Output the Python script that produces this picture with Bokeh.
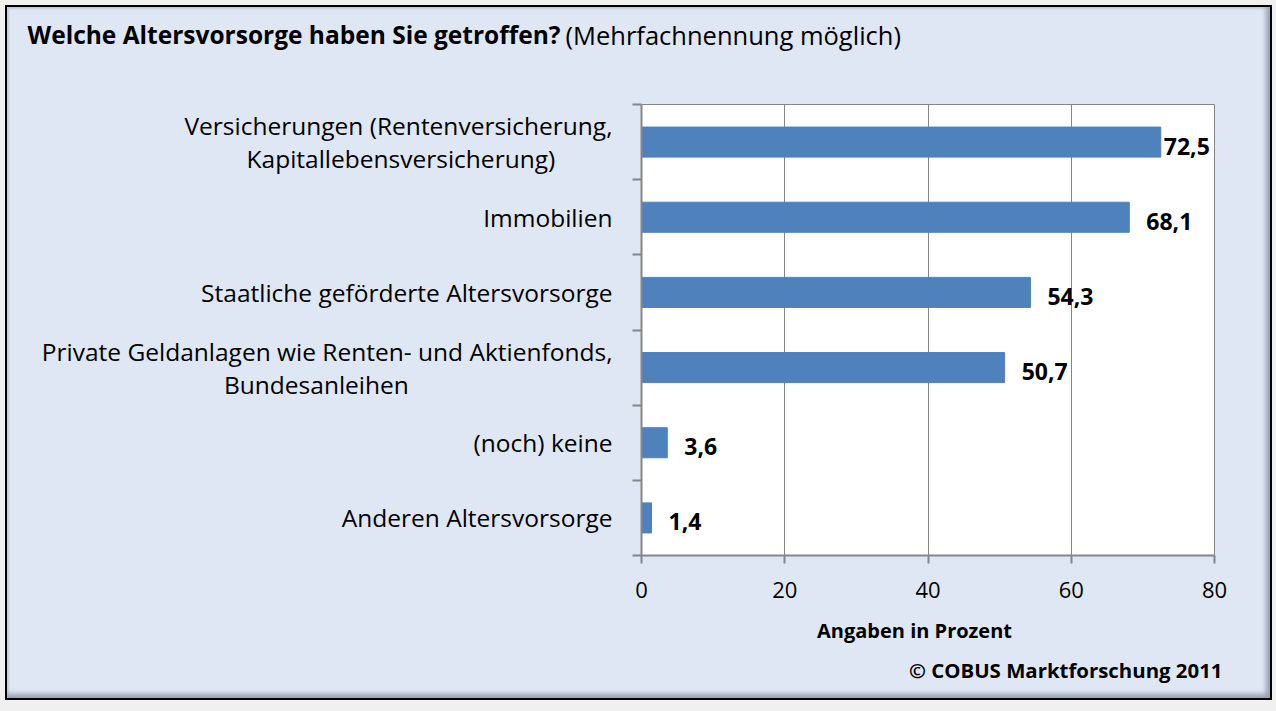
from bokeh.plotting import figure
from bokeh.models import ColumnDataSource, FixedTicker, LabelSet, Label, Range1d
from bokeh.core.properties import value
from bokeh.embed import file_html
from bokeh.resources import INLINE

# ---- data ----
categories = [
    "Versicherungen (Rentenversicherung,\nKapitallebensversicherung)",
    "Immobilien",
    "Staatliche geförderte Altersvorsorge",
    "Private Geldanlagen wie Renten- und Aktienfonds,\nBundesanleihen",
    "(noch) keine",
    "Anderen Altersvorsorge",
]
values = [72.5, 68.1, 54.3, 50.7, 3.6, 1.4]
x_ticks = [0, 20, 40, 60, 80]
title_bold = "Welche Altersvorsorge haben Sie getroffen?"
title_normal = "(Mehrfachnennung möglich)"
x_label = "Angaben in Prozent"
source_note = "© COBUS Marktforschung 2011"

# ---- styling ----
FONT = "Open Sans"
GRAY = "#868686"
BAR = "#4f81bd"
BG = "#dfe7f5"
W, H = 1267, 695
LEFT, RIGHT, TOP, BOTTOM = 634, 60, 97, 147
CHAR_W = 12.1          # approx. advance per character of category font
NBSP_W = 6.4           # advance of a no-break space in category font
NBSP = "\u00a0"

n = len(categories)
ypos = [n - i - 0.5 for i in range(n)]
labels = [f"{v:.1f}".replace(".", ",") for v in values]
offsets = [3 if v > 70 else 17 for v in values]


def centered(label):
    # axis tick labels are right-aligned; pad shorter lines so they appear centred
    lines = label.split("\n")
    longest = max(len(l) for l in lines)
    out = []
    for l in lines:
        pad = round((longest - len(l)) * CHAR_W / 2 / NBSP_W)
        out.append(l + NBSP * pad)
    return "\n".join(out)


src = ColumnDataSource(dict(y=ypos, v=values, lab=labels, off=offsets))

p = figure(width=W, height=H, x_range=Range1d(0, 80), y_range=Range1d(0, n),
           output_backend="svg", toolbar_location=None,
           min_border_left=LEFT, min_border_right=RIGHT,
           min_border_top=TOP, min_border_bottom=BOTTOM)

p.border_fill_alpha = 0
p.background_fill_color = "white"
p.outline_line_color = GRAY
p.outline_line_width = 1
p.styles = {
    "margin": "5px",
    "border": "2px solid black",
    "background-color": BG,
    "box-shadow": "inset -7px -7px 5px -3px #98a2af, inset 3px 3px 2px -1px #c3cbd6",
}

p.hbar(y="y", left=0, right="v", height=0.4, color=BAR, source=src)

p.add_layout(LabelSet(x="v", y="y", text="lab", x_offset="off", y_offset=-4,
                      source=src, text_font=value(FONT), text_font_size="23px",
                      text_font_style="bold", text_baseline="middle",
                      text_align="left", text_color="black"))

# x axis
xa = p.xaxis[0]
xa.ticker = FixedTicker(ticks=x_ticks)
xa.axis_line_color = GRAY
xa.axis_line_width = 2
xa.major_tick_line_color = GRAY
xa.major_tick_line_width = 2
xa.major_tick_in = 0
xa.major_tick_out = 8
xa.minor_tick_line_color = None
xa.major_label_text_font = FONT
xa.major_label_text_font_size = "22px"
xa.major_label_text_color = "black"
xa.major_label_standoff = 18

# y axis: category labels at band centres, tick marks between categories
ya = p.yaxis[0]
ya.ticker = FixedTicker(ticks=ypos, minor_ticks=list(range(0, n + 1)))
ya.major_label_overrides = {y: centered(c) for y, c in zip(ypos, categories)}
ya.axis_line_color = GRAY
ya.axis_line_width = 2
ya.major_tick_line_color = None
ya.major_tick_in = 0
ya.major_tick_out = 0
ya.minor_tick_line_color = GRAY
ya.minor_tick_line_width = 2
ya.minor_tick_in = 0
ya.minor_tick_out = 9
ya.major_label_text_font = FONT
ya.major_label_text_font_size = "24.5px"
ya.major_label_text_line_height = 1.0
ya.major_label_text_color = "black"
ya.major_label_standoff = 20

p.xgrid.grid_line_color = GRAY
p.xgrid.grid_line_width = 1
p.ygrid.grid_line_color = None

p.add_layout(Label(x=18, y=25, x_units="canvas", y_units="canvas", text=title_bold,
                   text_font=FONT, text_font_size="24.5px", text_font_style="bold",
                   text_baseline="middle", text_color="black"), "above")
p.add_layout(Label(x=556, y=25, x_units="canvas", y_units="canvas", text=title_normal,
                   text_font=FONT, text_font_size="25.5px",
                   text_baseline="middle", text_color="black"), "above")
p.add_layout(Label(x=905, y=621, x_units="canvas", y_units="canvas", text=x_label,
                   text_font=FONT, text_font_size="20px", text_font_style="bold",
                   text_baseline="middle", text_align="center", text_color="black"), "below")
p.add_layout(Label(x=1213, y=660, x_units="canvas", y_units="canvas", text=source_note,
                   text_font=FONT, text_font_size="20.4px", text_font_style="bold",
                   text_baseline="middle", text_align="right", text_color="black"), "below")

html = file_html(p, INLINE)
html = html.replace("</head>", "<style>body{background-color:#f0f0f0;}</style></head>", 1)
open("out.html", "w").write(html)
